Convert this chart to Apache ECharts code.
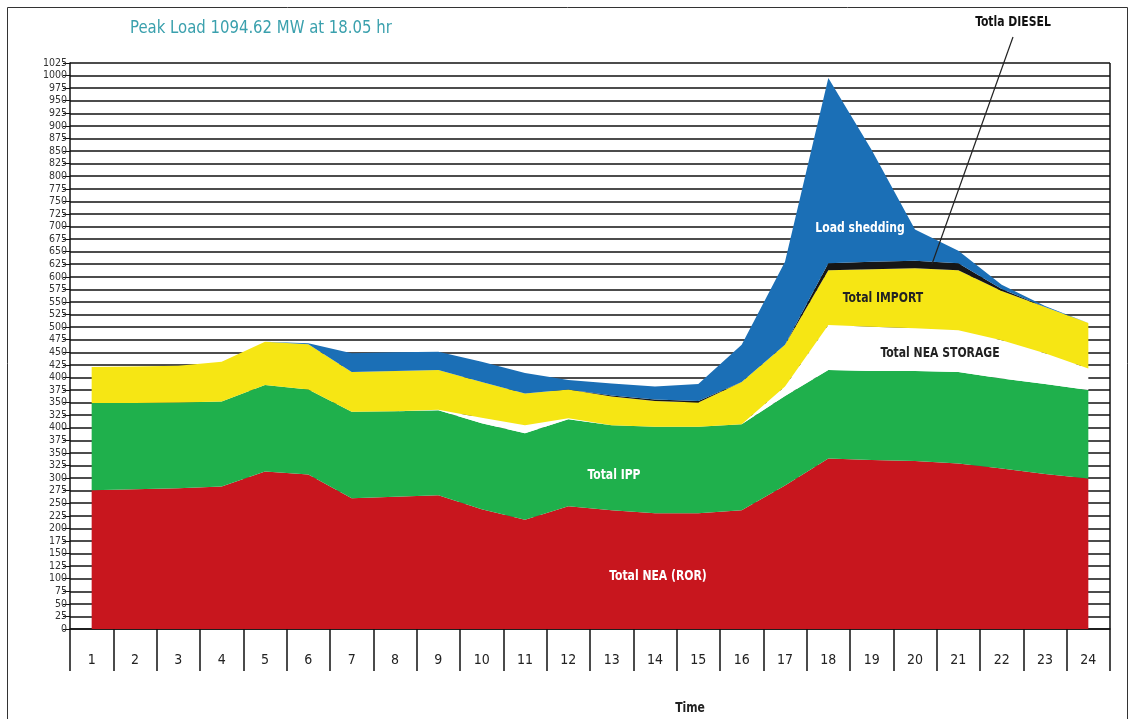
<!DOCTYPE html>
<html>
<head>
<meta charset="utf-8">
<script src="https://cdn.jsdelivr.net/npm/echarts@6/dist/echarts.min.js"></script>
<style>
html,body{margin:0;padding:0;background:#fff;}
#chart{width:1132px;height:719px;}
</style>
</head>
<body>
<div id="chart"></div>
<script>
// ---- data (MW) ----
const hours = ['1','2','3','4','5','6','7','8','9','10','11','12','13','14','15','16','17','18','19','20','21','22','23','24'];
const neaRor     = [276,278,280,283,313,307,260,263,266,238,217,244,236,230,230,236,285,339,336,334,329,319,308,299];
const ipp        = [173,171,170,169,172,169,172,170,169,171,172,173,169,172,172,171,178,176,177,179,182,179,179,176];
const neaStorage = [0,0,0,0,0,0,0,0,1,11,16,2,0,0,0,0,19,89,88,85,83,76,61,43];
const imports    = [72,73,73,79,86,90,79,80,79,71,63,57,57,51,48,84,83,109,114,119,119,98,92,90];
const diesel     = [0,0,0,0,0,0,0,0,0,0,0,0,2,3,3,0,0,14,15,15,14,4,0,0];
const loadShed   = [0,0,0,0,0,2,37,37,36,40,41,19,24,26,34,74,165,368,222,62,25,8,2,0];
// tick labels as printed on the original axis (bottom to top)
const yTickLabels = ['0','25','50','75','100','125','150','175','200','225','250','275','300','325','350','375','400',
  '325','350','375','400','425','450','475','500','525','550','575','600','625','650','675','700','725','750','775',
  '800','825','850','875','900','925','950','975','1000','1025'];

const FONT = "'Liberation Sans Narrow','DejaVu Sans Condensed','Roboto Condensed','Roboto','Liberation Sans',sans-serif";

function layer(name, data, color) {
  return {
    name: name, type: 'line', stack: 'total', data: data,
    symbol: 'none', lineStyle: {width: 0}, areaStyle: {color: color, opacity: 1},
    itemStyle: {color: color}, silent: true
  };
}
function label(text, x, y, color) {
  return {type: 'text', silent: true, x: x, y: y, scaleX: 0.86, z: 20,
    style: {text: text, fill: color, font: '600 14px ' + FONT, align: 'center', verticalAlign: 'middle'}};
}

const chart = echarts.init(document.getElementById('chart'), null, {renderer: 'canvas'});
chart.setOption({
  animation: false,
  backgroundColor: '#fff',
  grid: {left: 70, right: 22, top: 63, bottom: 90},
  xAxis: {
    type: 'category', data: hours, boundaryGap: true,
    axisLine: {show: true, lineStyle: {color: '#111', width: 1.5}},
    axisTick: {show: true, length: 42, interval: 0, lineStyle: {color: '#111', width: 1.5}},
    axisLabel: {margin: 24, fontSize: 14, color: '#222', fontFamily: FONT, interval: 0},
    splitLine: {show: false}
  },
  yAxis: {
    type: 'value', min: 0, max: 1125, interval: 25,
    axisLine: {show: true, lineStyle: {color: '#111', width: 1.5}},
    axisTick: {show: true, length: 7, lineStyle: {color: '#111', width: 1}},
    axisLabel: {margin: 3, fontSize: 10.5, color: '#333', fontFamily: FONT,
      formatter: function (v) { const i = Math.round(v / 25); return yTickLabels[i] !== undefined ? yTickLabels[i] : ''; }},
    splitLine: {show: true, lineStyle: {color: '#111', width: 1.5}}
  },
  series: [
    layer('Total NEA (ROR)', neaRor, '#c8161e'),
    layer('Total IPP', ipp, '#1fb04c'),
    layer('Total NEA STORAGE', neaStorage, '#ffffff'),
    layer('Total IMPORT', imports, '#f6e614'),
    layer('Totla DIESEL', diesel, '#161616'),
    layer('Load shedding', loadShed, '#1b6fb6')
  ],
  graphic: [
    {type: 'rect', silent: true, shape: {x: 7.5, y: 7.5, width: 1120, height: 730}, style: {fill: null, stroke: '#333', lineWidth: 1}},
    {type: 'line', silent: true, shape: {x1: 1110, y1: 63, x2: 1110, y2: 629}, style: {stroke: '#111', lineWidth: 1.5}, z: 10},
    {type: 'text', silent: true, x: 130, y: 28, scaleX: 0.92, style: {text: 'Peak Load 1094.62 MW at 18.05 hr', fill: '#3aa0ad', font: '18px ' + FONT, verticalAlign: 'middle'}},
    label('Totla DIESEL', 1013, 22, '#111'),
    {type: 'line', silent: true, shape: {x1: 1013, y1: 37, x2: 932, y2: 264}, style: {stroke: '#222', lineWidth: 1.2}, z: 20},
    label('Load shedding', 860, 228, '#fff'),
    label('Total IMPORT', 883, 298, '#222'),
    label('Total NEA STORAGE', 940, 353, '#222'),
    label('Total IPP', 614, 475, '#fff'),
    label('Total NEA (ROR)', 658, 576, '#fff'),
    label('Time', 690, 708, '#222')
  ]
});
</script>
</body>
</html>
